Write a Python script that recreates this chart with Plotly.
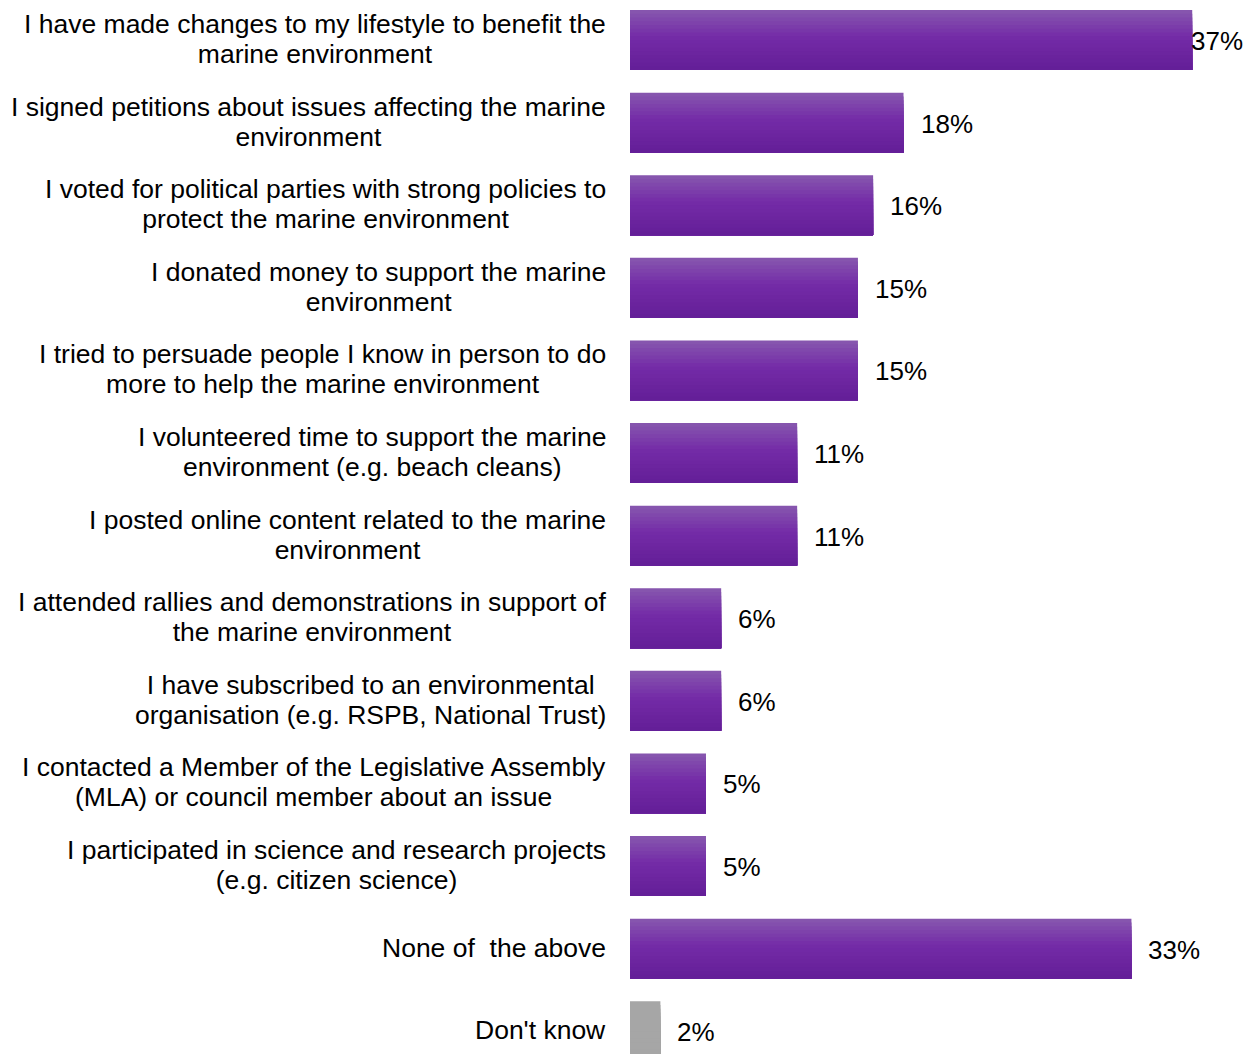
import plotly.graph_objects as go

# Survey responses: actions taken to help the marine environment
categories = [
    "I have made changes to my lifestyle to benefit the<br>marine environment",
    "I signed petitions about issues affecting the marine<br>environment",
    "I voted for political parties with strong policies to<br>protect the marine environment",
    "I donated money to support the marine<br>environment",
    "I tried to persuade people I know in person to do<br>more to help the marine environment",
    "I volunteered time to support the marine<br>environment (e.g. beach cleans)",
    "I posted online content related to the marine<br>environment",
    "I attended rallies and demonstrations in support of<br>the marine environment",
    "I have subscribed to an environmental<br>organisation (e.g. RSPB, National Trust)",
    "I contacted a Member of the Legislative Assembly<br>(MLA) or council member about an issue",
    "I participated in science and research projects<br>(e.g. citizen science)",
    "None of\u00a0 the above",
    "Don't know",
]
values = [37, 18, 16, 15, 15, 11, 11, 6, 6, 5, 5, 33, 2]
is_dont_know = [c == "Don't know" for c in categories]

FONT = "Liberation Sans, Arial, sans-serif"
TEXT_PX = 26          # value label size
CAT_PX = 26.5         # category label glyph size
LINE_BASE_PX = 23     # base size that sets the (tight) line spacing
X_MAX = 41.0
PLOT_LEFT = 630
PLOT_W = 1253 - PLOT_LEFT
PX_PER_UNIT = PLOT_W / X_MAX

# vertical gradient stops for the purple bars (top -> bottom)
stops = [(0.0, (0x87, 0x58, 0xAF)), (0.45, (0x74, 0x2B, 0xA7)), (1.0, (0x63, 0x1E, 0x97))]
GREY = "#A6A6A6"


def grad(t):
    for (t0, c0), (t1, c1) in zip(stops[:-1], stops[1:]):
        if t <= t1:
            f = (t - t0) / (t1 - t0)
            return "rgb(%d,%d,%d)" % tuple(round(a + (b - a) * f) for a, b in zip(c0, c1))
    return "rgb(%d,%d,%d)" % stops[-1][1]


BAR_W = 0.725
N_BANDS = 16
band = BAR_W / N_BANDS

fig = go.Figure()
# each band runs from its own top edge down to the bar's bottom edge and
# later bands sit over earlier ones, so no seams show between them
for k in range(N_BANDS):
    col = grad((k + 0.5) / N_BANDS)
    fig.add_trace(go.Bar(
        y=categories,
        x=values,
        orientation="h",
        width=BAR_W - k * band,
        offset=-BAR_W / 2 + k * band,
        marker=dict(color=[GREY if d else col for d in is_dont_know], line=dict(width=0)),
        hoverinfo="skip",
        showlegend=False,
    ))


def sized(text):
    return "<br>".join(f"<span style='font-size:{CAT_PX}px'>{ln}</span>" for ln in text.split("<br>"))


annotations = []
# category labels, centred text block right-aligned next to the bars
for c in categories:
    annotations.append(dict(
        x=0, xref="paper", y=c, yref="y",
        text=sized(c), showarrow=False,
        xanchor="right", yanchor="middle", align="center", xshift=-22, yshift=1,
        font=dict(family=FONT, size=LINE_BASE_PX, color="black"),
    ))

# value labels at the end of each bar, kept inside the figure width
LABEL_PX = 56
for c, v in zip(categories, values):
    end_px = v * PX_PER_UNIT
    shift = 15
    if end_px + shift + LABEL_PX > PLOT_W - 8:
        shift = PLOT_W - 8 - LABEL_PX - end_px
    annotations.append(dict(
        x=v, xref="x", y=c, yref="y",
        text=f"{v}%", showarrow=False,
        xanchor="left", yanchor="middle", xshift=shift, yshift=-1,
        font=dict(family=FONT, size=TEXT_PX, color="black"),
    ))

STEP = 82.6
first_center = 40
top = -first_center / STEP
bottom = (1054 - first_center) / STEP

fig.update_layout(
    width=1253, height=1054,
    margin=dict(l=PLOT_LEFT, r=0, t=0, b=0),
    paper_bgcolor="white", plot_bgcolor="white",
    barmode="overlay",
    xaxis=dict(range=[0, X_MAX], visible=False, fixedrange=True),
    yaxis=dict(range=[bottom, top], showticklabels=False, showgrid=False,
               zeroline=False, showline=False, ticks="", fixedrange=True),
    annotations=annotations,
    font=dict(family=FONT, size=TEXT_PX, color="black"),
)

fig.write_html("out.html")
